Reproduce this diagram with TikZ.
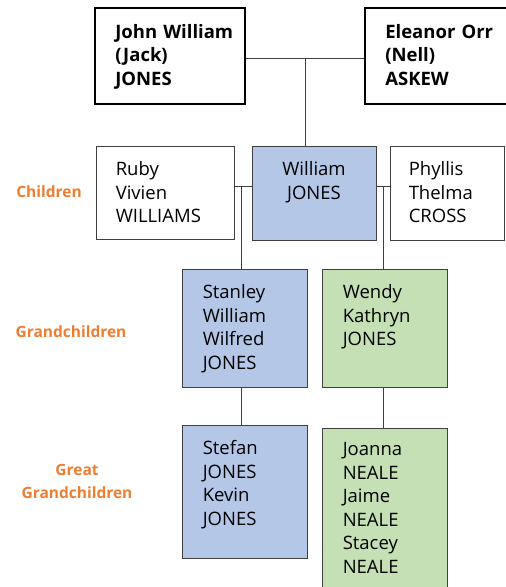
\documentclass[tikz,border=0pt]{standalone}
\usepackage{fontspec}
\setmainfont{Open Sans}
\definecolor{genorange}{HTML}{ED7D31}
\definecolor{kinblue}{HTML}{B4C7E7}
\definecolor{kingreen}{HTML}{C5E0B4}
\definecolor{boxgray}{HTML}{404040}
\newcommand\namefont{\fontsize{18.5bp}{23.5bp}\selectfont}
\newcommand\genfont{\fontsize{15.5bp}{23bp}\selectfont\bfseries}

\begin{document}
\begin{tikzpicture}[x=1bp, y=-1bp,
  parent/.style={rectangle, draw=black, line width=1.8bp, inner sep=0pt, minimum width=150bp, minimum height=96bp},
  person/.style={rectangle, draw=boxgray, line width=0.9bp, inner sep=0pt},
  names/.style={font=\namefont, align=left, text width=150bp, inner sep=0pt, anchor=base west},
  generation/.style={font=\genfont, text=genorange, align=center, text width=130bp, inner sep=0pt, anchor=base},
  link/.style={draw=boxgray, line width=0.9bp}]
\useasboundingbox (0,0) rectangle (506,587);
\clip (0,0) rectangle (506,587);

% parents
\node[parent] (jack) at (170,56) {};
\node[parent] (nell) at (440,56) {};
\node[names, font=\namefont\bfseries] (jacktext) at ([shift={(21,31)}]jack.north west) {John William\\(Jack)\\JONES};
\node[names, font=\namefont\bfseries] (nelltext) at ([shift={(21,31)}]nell.north west) {Eleanor Orr\\(Nell)\\ASKEW};

% children
\node[person, minimum width=138bp, minimum height=93bp] (ruby) at (165,192.5) {};
\node[person, fill=kinblue, minimum width=124bp, minimum height=94bp] (william) at (314,193) {};
\node[person, minimum width=114bp, minimum height=94bp] (phyllis) at (447,193) {};
\node[names] (rubytext) at ([shift={(20,30)}]ruby.north west) {Ruby\\Vivien\\WILLIAMS};
\node[names, align=center, text width=124bp, anchor=base] (williamtext) at ([shift={(0,30)}]william.north) {William\\JONES};
\node[names] (phyllistext) at ([shift={(19,30)}]phyllis.north west) {Phyllis\\Thelma\\CROSS};

% grandchildren
\node[person, fill=kinblue, minimum width=125bp, minimum height=118bp] (stanley) at (244.5,328) {};
\node[person, fill=kingreen, minimum width=125bp, minimum height=118bp] (wendy) at (384.5,328) {};
\node[names] (stanleytext) at ([shift={(21,30)}]stanley.north west) {Stanley\\William\\Wilfred\\JONES};
\node[names] (wendytext) at ([shift={(21,30)}]wendy.north west) {Wendy\\Kathryn\\JONES};

% great grandchildren
\node[person, fill=kinblue, minimum width=125bp, minimum height=133bp] (stefan) at (244.5,491.5) {};
\node[person, fill=kingreen, minimum width=125bp, minimum height=170bp] (joanna) at (384.5,513) {};
\node[names] (stefantext) at ([shift={(21,30)}]stefan.north west) {Stefan\\JONES\\Kevin\\JONES};
\node[names] (joannatext) at ([shift={(21,28)}]joanna.north west) {Joanna\\NEALE\\Jaime\\NEALE\\Stacey\\NEALE};

% generation labels
\node[generation] (children) at (49,197) {Children};
\node[generation] (grandchildren) at (71,337) {Grandchildren};
\node[generation] (greatgrand) at (77,475) {Great\\Grandchildren};

% lines
\coordinate (marriage) at (305,58);
\coordinate (rubyknot) at (241,186);
\coordinate (phyllisknot) at (383,186);
\draw[link] (jack.east |- marriage) -- (nell.west |- marriage);
\draw[link] (marriage) -- (marriage |- william.north);
\draw[link] (ruby.east |- rubyknot) -- (william.west |- rubyknot);
\draw[link] (rubyknot) -- (rubyknot |- stanley.north);
\draw[link] (phyllis.west |- phyllisknot) -- (william.east |- phyllisknot);
\draw[link] (phyllisknot) -- (phyllisknot |- wendy.north);
\draw[link] (rubyknot |- stanley.south) -- (rubyknot |- stefan.north);
\draw[link] (phyllisknot |- wendy.south) -- (phyllisknot |- joanna.north);
\end{tikzpicture}
\end{document}
